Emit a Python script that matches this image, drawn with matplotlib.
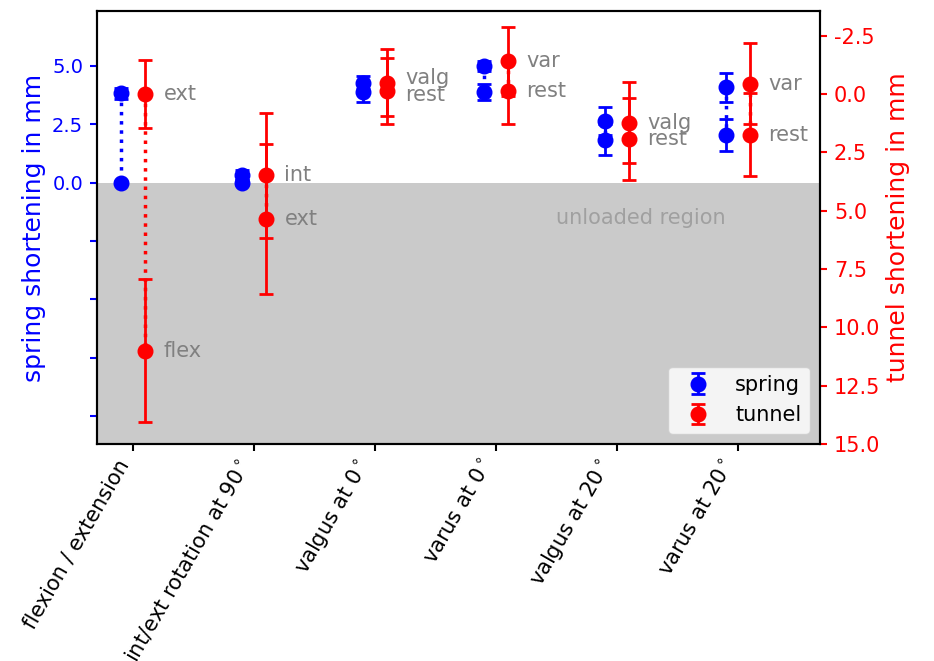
import numpy as np
import matplotlib
matplotlib.use("Agg")
import matplotlib.pyplot as plt

plt.rcParams['axes.unicode_minus'] = False

# categories and the two conditions compared in each
categories = ['flexion / extension', 'int/ext rotation at 90$^\\circ$', 'valgus at 0$^\\circ$',
              'varus at 0$^\\circ$', 'valgus at 20$^\\circ$', 'varus at 20$^\\circ$']
cond_a = ['ext', 'int', 'valg', 'var', 'valg', 'var']
cond_b = ['flex', 'ext', 'rest', 'rest', 'rest', 'rest']

# spring shortening (mm), mean and std
spring_a = [3.82, 0.33, 4.28, 4.99, 2.65, 4.08]
spring_a_err = [0.22, 0.2, 0.27, 0.23, 0.6, 0.63]
spring_b = [0.0, 0.0, 3.89, 3.88, 1.83, 2.04]
spring_b_err = [0.05, 0.12, 0.43, 0.34, 0.66, 0.7]

# tunnel shortening (mm), mean and std
tunnel_a = [0.0, 3.49, -0.48, -1.39, 1.23, -0.43]
tunnel_a_err = [1.45, 2.69, 1.43, 1.47, 1.75, 1.74]
tunnel_b = [11.0, 5.37, -0.14, -0.11, 1.94, 1.75]
tunnel_b_err = [3.06, 3.22, 1.41, 1.38, 1.76, 1.77]

fig = plt.figure(figsize=(9.34, 6.61), dpi=100)
ax = fig.add_axes([97 / 934, 1 - 444 / 661, (820 - 97) / 934, (444 - 11) / 661])
ax2 = ax.twinx()

x = np.arange(len(categories))
xs = x - 0.1
xt = x + 0.1
ebkw = dict(fmt='o', markersize=10.5, elinewidth=2, capsize=5, capthick=2)

ax.set_ylim(-11.2, 7.35)
ax2.set_ylim(15, -3.55)
ax.axhspan(-20, 0, color='#cacaca', zorder=0, lw=0)
ax.text(4.2, -1.5, 'unloaded region', color='#a0a0a0', fontsize=15, ha='center', va='center')

for i in range(len(categories)):
    ax.plot([xs[i], xs[i]], [spring_a[i], spring_b[i]], ':', color='b', lw=2.5)
    ax2.plot([xt[i], xt[i]], [tunnel_a[i], tunnel_b[i]], ':', color='r', lw=2.5)

h1 = ax.errorbar(xs, spring_a, yerr=spring_a_err, color='b', label='spring', **ebkw)
ax.errorbar(xs, spring_b, yerr=spring_b_err, color='b', **ebkw)
h2 = ax2.errorbar(xt, tunnel_a, yerr=tunnel_a_err, color='r', label='tunnel', **ebkw)
ax2.errorbar(xt, tunnel_b, yerr=tunnel_b_err, color='r', **ebkw)

# condition labels next to the tunnel points, spread apart when they overlap
for i in range(len(categories)):
    ya, yb = tunnel_a[i], tunnel_b[i]
    d = abs(yb - ya)
    if d < 0.6:
        s = (0.7 - d) / 2
        ya, yb = ya - s, yb + s
    ax2.text(x[i] + 0.25, ya, cond_a[i], color='gray', fontsize=15, va='center', ha='left')
    ax2.text(x[i] + 0.25, yb, cond_b[i], color='gray', fontsize=15, va='center', ha='left')

ax.set_xlim(-0.3, 5.68)
ax.set_xticks(x)
ax.set_xticklabels(categories, rotation=60, ha='right', fontsize=15)

yt = np.arange(-10, 7.5, 2.5)
ax.set_yticks(yt)
ax.set_yticklabels(['%.1f' % v if v >= 0 else '' for v in yt])
ax.tick_params(axis='y', colors='b', labelsize=14, length=5, width=1.5, pad=5)
ax.tick_params(axis='x', length=5, width=1.5)
ax.set_ylabel('spring shortening in mm', color='b', fontsize=18)

ax2.set_yticks(np.arange(-2.5, 15.1, 2.5))
ax2.tick_params(axis='y', colors='r', labelsize=15, length=5, width=1.5, pad=5)
ax2.set_ylabel('tunnel shortening in mm', color='r', fontsize=18)

for a in (ax, ax2):
    for sp in a.spines.values():
        sp.set_linewidth(1.5)

ax2.legend([h1, h2], ['spring', 'tunnel'], loc='lower right', fontsize=15)

fig.savefig('out.png', dpi=100)
